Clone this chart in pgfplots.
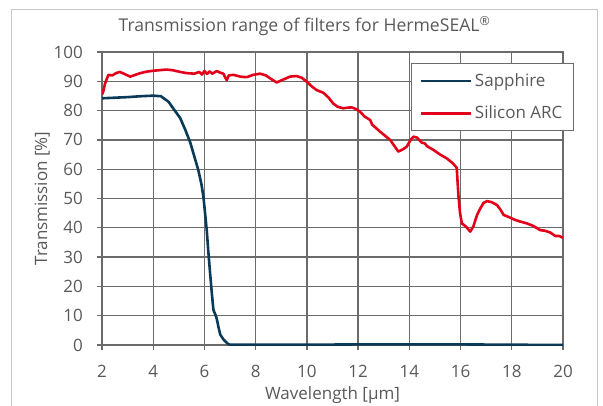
\documentclass[border=0pt]{standalone}
\usepackage{fontspec}
\setmainfont{Open Sans}
\usepackage{pgfplots}
\pgfplotsset{compat=1.18}
\definecolor{txt}{HTML}{595959}
\definecolor{gridc}{HTML}{6B6B6B}
\definecolor{sap}{HTML}{0A3A57}
\definecolor{sil}{HTML}{E2001A}
\newcommand{\ff}{\fontsize{17}{20}\selectfont}
\begin{document}
\begin{tikzpicture}[x=1pt,y=1pt]
\useasboundingbox (0,0) rectangle (603,405);
\draw[line width=1pt, color=black!22] (11,-5) -- (11,395) -- (597,395) -- (597,-5);
\begin{axis}[
  at={(102pt,60pt)}, anchor=south west,
  scale only axis, width=461pt, height=293pt,
  xmin=2, xmax=20, ymin=0, ymax=100,
  xtick={2,4,...,20}, ytick={0,10,...,100},
  grid=major, major grid style={gridc, line width=1.3pt},
  axis line style={gridc, line width=1.3pt},
  tick align=outside, tick pos=left, major tick length=5pt,
  tick style={gridc, line width=1.3pt},
  /pgf/number format/assume math mode=true,
  ticklabel style={font=\ff, text=txt},
  yticklabel style={inner sep=0pt, anchor=east, xshift=-14pt},
  xticklabel style={inner sep=0pt, anchor=north, yshift=-15pt},
  legend style={at={(0.670,0.962)}, anchor=north west, draw=gridc, line width=1pt,
    fill=white, font=\ff, text=txt, inner xsep=8pt, inner ysep=7pt, row sep=12pt,
    nodes={inner sep=3pt}},
  legend cell align=left,
  legend image code/.code={\draw[#1] (0pt,0pt) -- (50pt,0pt);},
]
\addplot[sap, line width=2.6pt, line join=round] coordinates {
(2.0,84.2) (2.5,84.4) (3.0,84.6) (3.5,84.9) (4.0,85.1) (4.3,84.9) (4.6,83.0)
(4.8,80.5) (5.05,77.5) (5.25,73.5) (5.45,69.0) (5.6,64.5) (5.76,59.7) (5.88,55.0)
(5.96,50.6) (6.03,44.5) (6.09,39.2) (6.15,32.0) (6.22,24.6) (6.29,17.5) (6.35,12.0)
(6.42,10.5) (6.48,9.0) (6.55,6.0) (6.62,3.5) (6.75,1.8) (6.93,0.3) (7.0,0.1)
(8,0.1) (10,0.1) (12,0.2) (14,0.2) (16,0.2) (18,0.1) (20,0.0)
};
\addlegendentry{Sapphire}
\addplot[sil, line width=2.6pt, line join=round] coordinates {
(2.0,85.5) (2.05,86.5) (2.12,89.3) (2.25,92.2) (2.4,92.0) (2.55,92.8) (2.7,93.2)
(2.85,92.6) (3.1,91.6) (3.3,92.2) (3.5,92.8) (3.75,93.3) (4.0,93.6) (4.25,93.8)
(4.5,94.0) (4.75,93.8) (5.05,93.2) (5.3,92.8) (5.6,92.6) (5.8,93.2) (5.9,92.3)
(6.0,93.5) (6.1,92.5) (6.2,93.4) (6.3,92.6) (6.48,93.5) (6.6,93.0) (6.74,92.6)
(6.8,91.5) (6.87,90.4) (6.95,92.0) (7.13,92.2) (7.4,91.6) (7.65,91.4) (7.9,92.2)
(8.17,92.6) (8.4,92.0) (8.6,90.8) (8.82,89.6) (9.05,90.5) (9.34,91.6) (9.6,91.8)
(9.8,91.2) (9.99,89.9) (10.2,88.2) (10.38,87.0) (10.64,86.1) (10.85,84.4)
(11.03,82.4) (11.2,81.3) (11.42,80.8) (11.6,81.0) (11.75,81.1) (11.9,80.6)
(12.08,79.6) (12.25,78.0) (12.47,76.8) (12.55,75.2) (12.86,72.8) (13.25,70.0)
(13.57,66.0) (13.75,66.8) (13.9,67.7) (14.05,70.0) (14.16,71.1) (14.3,70.8)
(14.48,69.1) (14.6,68.8) (14.7,67.8) (14.94,66.6) (15.2,65.0) (15.46,63.7)
(15.7,62.0) (15.85,60.5) (15.92,50.6) (15.98,45.0) (16.05,41.5) (16.2,40.5)
(16.38,38.7) (16.5,40.5) (16.65,44.5) (16.77,46.6) (16.9,48.5) (17.03,49.1)
(17.2,48.8) (17.42,47.8) (17.55,46.3) (17.68,44.4) (17.85,43.8) (18.07,42.9)
(18.3,42.2) (18.59,41.5) (18.85,40.6) (19.11,39.2) (19.3,39.0) (19.5,38.4)
(19.7,37.2) (19.85,37.2) (20.0,36.6)
};
\addlegendentry{Silicon ARC\hspace{7pt}}
\end{axis}
\node[txt, font=\fontsize{17.6}{20}\selectfont, anchor=base] at (304.5,373) {Transmission range of filters for HermeSEAL\textsuperscript{®}};
\node[txt, font=\ff, anchor=base] at (332.5,6) {Wavelength [µm]};
\node[txt, font=\ff, anchor=base, rotate=90] at (47,206.5) {Transmission [\%]};
\end{tikzpicture}
\end{document}
